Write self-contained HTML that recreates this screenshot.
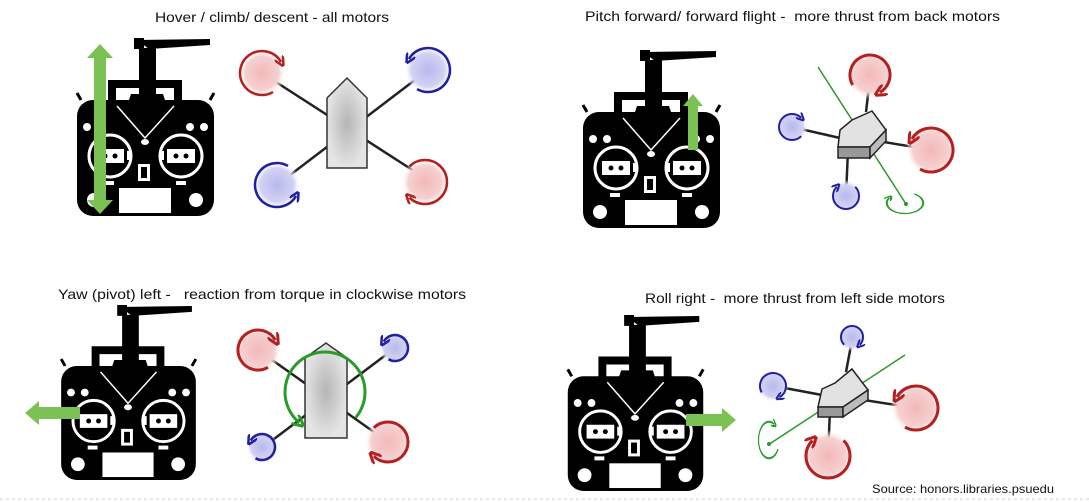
<!DOCTYPE html>
<html><head><meta charset="utf-8"><style>
html,body{margin:0;padding:0;background:#fff;width:1089px;height:502px;overflow:hidden}
svg{display:block}
text{font-family:"Liberation Sans",sans-serif;fill:#111;white-space:pre}
</style></head><body>
<svg width="1089" height="502" viewBox="0 0 1089 502" xmlns="http://www.w3.org/2000/svg">
<defs>
<radialGradient id="rg"><stop offset="0" stop-color="#f3b8b8"/><stop offset="0.7" stop-color="#f6d0d0"/><stop offset="1" stop-color="#fff" stop-opacity="0"/></radialGradient>
<radialGradient id="bg"><stop offset="0" stop-color="#b8b8ee"/><stop offset="0.7" stop-color="#d2d2f4"/><stop offset="1" stop-color="#fff" stop-opacity="0"/></radialGradient>
<radialGradient id="gb"><stop offset="0" stop-color="#b5b5b5"/><stop offset="1" stop-color="#e4e4e4"/></radialGradient>
<marker id="ar" viewBox="0 0 10 10" refX="5" refY="5" markerWidth="4" markerHeight="4" orient="auto"><path d="M0,0 L10,5 L0,10" fill="none" stroke="#b42020" stroke-width="2.5"/></marker>
<marker id="ab" viewBox="0 0 10 10" refX="5" refY="5" markerWidth="4" markerHeight="4" orient="auto"><path d="M0,0 L10,5 L0,10" fill="none" stroke="#2020a0" stroke-width="2.5"/></marker>
<marker id="ag" viewBox="0 0 10 10" refX="5" refY="5" markerWidth="4" markerHeight="4" orient="auto"><path d="M0,0 L10,5 L0,10" fill="none" stroke="#2a9a2a" stroke-width="2.5"/></marker>
<symbol id="remote" viewBox="0 0 137 178" overflow="visible">
<polygon points="60,2 133,1 133,7 72,11" fill="#000"/>
<rect x="57" y="0" width="10" height="11" fill="#000"/>
<rect x="62" y="10" width="17" height="48" fill="#000"/>
<path d="M35,78 V46 H101 V78" fill="none" stroke="#000" stroke-width="8"/>
<polygon points="54,56 86,56 90,68 102,76 78,108 60,108 36,76 50,68" fill="#000"/>
<rect x="0" y="62" width="137" height="116" rx="16" fill="#000"/>
<polyline points="40,68 68,100 97,68" fill="none" stroke="#fff" stroke-width="1.5"/>
<line x1="4" y1="62" x2="0" y2="55" stroke="#000" stroke-width="3"/>
<line x1="133" y1="62" x2="137" y2="55" stroke="#000" stroke-width="3"/>
<circle cx="10" cy="89" r="4" fill="#fff"/><circle cx="24" cy="89" r="4" fill="#fff"/>
<circle cx="113" cy="89" r="4" fill="#fff"/><circle cx="127" cy="89" r="4" fill="#fff"/>
<circle cx="33" cy="118" r="21" fill="none" stroke="#fff" stroke-width="3"/>
<circle cx="104" cy="118" r="21" fill="none" stroke="#fff" stroke-width="3"/>
<rect x="19" y="111" width="28" height="14" fill="#fff"/><rect x="90" y="111" width="28" height="14" fill="#fff"/>
<circle cx="28" cy="118" r="2.5" fill="#000"/><circle cx="38" cy="118" r="2.5" fill="#000"/>
<circle cx="99" cy="118" r="2.5" fill="#000"/><circle cx="109" cy="118" r="2.5" fill="#000"/>
<ellipse cx="68" cy="104" rx="4" ry="3" fill="#fff"/>
<rect x="50" y="113" width="4" height="9" fill="#fff"/><rect x="83" y="113" width="4" height="9" fill="#fff"/>
<rect x="61" y="126" width="12" height="17" fill="#fff"/><rect x="64" y="129" width="6" height="11" fill="#000"/>
<rect x="27" y="143" width="10" height="4" fill="#fff"/><rect x="99" y="143" width="10" height="4" fill="#fff"/>
<rect x="42" y="150" width="52" height="25" fill="#fff"/>
<circle cx="17" cy="162" r="7" fill="#fff"/><circle cx="119" cy="162" r="7" fill="#fff"/>
</symbol>
</defs>

<!-- titles -->
<text x="155" y="22" font-size="14" textLength="234" lengthAdjust="spacingAndGlyphs">Hover / climb/ descent - all motors</text>
<text x="585" y="21" font-size="14" textLength="415" lengthAdjust="spacingAndGlyphs">Pitch forward/ forward flight -  more thrust from back motors</text>
<text x="58" y="299" font-size="14" textLength="408" lengthAdjust="spacingAndGlyphs">Yaw (pivot) left -   reaction from torque in clockwise motors</text>
<text x="645" y="303" font-size="14" textLength="300" lengthAdjust="spacingAndGlyphs">Roll right -  more thrust from left side motors</text>
<text x="872" y="493" font-size="12" textLength="182" lengthAdjust="spacingAndGlyphs">Source: honors.libraries.psuedu</text>
<line x1="0" y1="499" x2="1089" y2="499" stroke="#ccc" stroke-dasharray="3,3"/>

<!-- remotes -->
<use href="#remote" x="77" y="38" width="137" height="178"/>
<use href="#remote" x="583" y="50" width="137" height="178"/>
<use href="#remote" x="60" y="305" width="137" height="175"/>
<use href="#remote" x="567" y="315" width="137" height="176"/>

<!-- green arrows -->
<polygon points="100,44 113,58 106,58 106,200 113,200 100,214 87,200 94,200 94,58 87,58" fill="#7cc153"/>
<polygon points="693,94 703,106 698,106 698,150 688,150 688,106 683,106" fill="#7cc153"/>
<polygon points="25,413 39,401 39,407 80,407 80,419 39,419 39,425" fill="#7cc153"/>
<polygon points="736,420 722,408 722,414 686,414 686,426 722,426 722,432" fill="#7cc153"/>

<!-- panel 1 drone -->
<g stroke="#222" stroke-width="2.5"><line x1="262" y1="73" x2="428" y2="180"/><line x1="428" y1="70" x2="277" y2="185"/></g>
<circle cx="262" cy="73" r="24" fill="url(#rg)"/>
<g transform="translate(262,73) rotate(60)"><path d="M22,0 A22,22 0 1 1 0,-22" fill="none" stroke="#b42020" stroke-width="2.5" marker-end="url(#ar)"/></g>
<circle cx="428" cy="70" r="24" fill="url(#bg)"/>
<g transform="translate(428,70) rotate(120)"><path d="M22,0 A22,22 0 1 0 0,22" fill="none" stroke="#2020a0" stroke-width="2.5" marker-end="url(#ab)"/></g>
<circle cx="277" cy="185" r="24" fill="url(#bg)"/>
<g transform="translate(277,185) rotate(-60)"><path d="M22,0 A22,22 0 1 0 0,22" fill="none" stroke="#2020a0" stroke-width="2.5" marker-end="url(#ab)"/></g>
<circle cx="425" cy="182" r="24" fill="url(#rg)"/>
<g transform="translate(425,182) rotate(225)"><path d="M22,0 A22,22 0 1 1 0,-22" fill="none" stroke="#b42020" stroke-width="2.5" marker-end="url(#ar)"/></g>
<polygon points="327,98 347,78 367,98 367,168 327,168" fill="url(#gb)" stroke="#333" stroke-width="1.5"/>

<!-- panel 3 drone -->
<g stroke="#222" stroke-width="2.5"><line x1="258" y1="350" x2="388" y2="442"/><line x1="395" y1="348" x2="262" y2="448"/></g>
<circle cx="258" cy="350" r="24" fill="url(#rg)"/>
<g transform="translate(258,350) rotate(60)"><path d="M20,0 A20,20 0 1 1 0,-20" fill="none" stroke="#b42020" stroke-width="3" marker-end="url(#ar)"/></g>
<circle cx="395" cy="348" r="16" fill="url(#bg)"/>
<g transform="translate(395,348) rotate(120)"><path d="M13,0 A13,13 0 1 0 0,13" fill="none" stroke="#2020a0" stroke-width="2.5" marker-end="url(#ab)"/></g>
<circle cx="262" cy="447" r="16" fill="url(#bg)"/>
<g transform="translate(262,447) rotate(120)"><path d="M13,0 A13,13 0 1 0 0,13" fill="none" stroke="#2020a0" stroke-width="2.5" marker-end="url(#ab)"/></g>
<circle cx="388" cy="442" r="24" fill="url(#rg)"/>
<g transform="translate(388,442) rotate(225)"><path d="M20,0 A20,20 0 1 1 0,-20" fill="none" stroke="#b42020" stroke-width="3" marker-end="url(#ar)"/></g>
<polygon points="305,358 326,343 347,358 347,438 305,438" fill="url(#gb)" stroke="#333" stroke-width="1.5"/>
<g transform="translate(325,392) rotate(40)"><path d="M40,0 A40,40 0 1 0 0,40" fill="none" stroke="#2a9a2a" stroke-width="3" marker-end="url(#ag)"/></g>

<!-- panel 2 drone -->
<line x1="818" y1="67" x2="906" y2="204" stroke="#2a9a2a" stroke-width="1.5"/>
<circle cx="906" cy="204" r="2" fill="#2a9a2a"/>
<g transform="translate(905,203) scale(1.3,0.75) rotate(-60)"><path d="M14,0 A14,14 0 1 1 0,-14" fill="none" stroke="#2a9a2a" stroke-width="1.6" marker-end="url(#ag)"/></g>
<g stroke="#222" stroke-width="2.5"><line x1="870" y1="78" x2="866" y2="112"/><line x1="792" y1="127" x2="840" y2="138"/><line x1="878" y1="141" x2="932" y2="150"/><line x1="848" y1="150" x2="846" y2="196"/></g>
<circle cx="870" cy="75" r="24" fill="url(#rg)"/>
<g transform="translate(870,75) rotate(150)"><path d="M20,0 A20,20 0 1 1 0,-20" fill="none" stroke="#b42020" stroke-width="3" marker-end="url(#ar)"/></g>
<circle cx="931" cy="150" r="26" fill="url(#rg)"/>
<g transform="translate(931,150) rotate(120)"><path d="M22,0 A22,22 0 1 0 0,22" fill="none" stroke="#b42020" stroke-width="3" marker-end="url(#ar)"/></g>
<circle cx="792" cy="127" r="16" fill="url(#bg)"/>
<g transform="translate(792,127) rotate(45)"><path d="M13,0 A13,13 0 1 1 0,-13" fill="none" stroke="#2020a0" stroke-width="2" marker-end="url(#ab)"/></g>
<circle cx="846" cy="196" r="16" fill="url(#bg)"/>
<g transform="translate(846,196) rotate(-45)"><path d="M13,0 A13,13 0 1 1 0,-13" fill="none" stroke="#2020a0" stroke-width="2" marker-end="url(#ab)"/></g>
<polygon points="840,130 852,120 872,111 886,130 870,147 838,147" fill="#e2e2e2" stroke="#222" stroke-width="1.5"/>
<polygon points="838,147 870,147 870,158 838,158" fill="#999" stroke="#222" stroke-width="1.5"/>
<polygon points="870,147 886,130 886,141 870,158" fill="#bbb" stroke="#222" stroke-width="1.5"/>

<!-- panel 4 drone -->
<line x1="905" y1="355" x2="768" y2="445" stroke="#2a9a2a" stroke-width="1.5"/>
<circle cx="769" cy="444" r="2" fill="#2a9a2a"/>
<g transform="translate(769,440) scale(0.75,1.3) rotate(30)"><path d="M14,0 A14,14 0 1 1 0,-14" fill="none" stroke="#2a9a2a" stroke-width="1.6" marker-end="url(#ag)"/></g>
<g stroke="#222" stroke-width="2.5"><line x1="852" y1="340" x2="846" y2="372"/><line x1="774" y1="386" x2="822" y2="395"/><line x1="864" y1="400" x2="915" y2="408"/><line x1="830" y1="410" x2="828" y2="456"/></g>
<circle cx="852" cy="337" r="14" fill="url(#bg)"/>
<g transform="translate(852,337) rotate(135)"><path d="M11,0 A11,11 0 1 1 0,-11" fill="none" stroke="#2020a0" stroke-width="2" marker-end="url(#ab)"/></g>
<circle cx="773" cy="386" r="16" fill="url(#bg)"/>
<g transform="translate(773,386) rotate(150)"><path d="M13,0 A13,13 0 1 1 0,-13" fill="none" stroke="#2020a0" stroke-width="2" marker-end="url(#ab)"/></g>
<circle cx="916" cy="408" r="26" fill="url(#rg)"/>
<g transform="translate(916,408) rotate(120)"><path d="M22,0 A22,22 0 1 0 0,22" fill="none" stroke="#b42020" stroke-width="3" marker-end="url(#ar)"/></g>
<circle cx="828" cy="456" r="26" fill="url(#rg)"/>
<g transform="translate(828,456) rotate(-45)"><path d="M22,0 A22,22 0 1 1 0,-22" fill="none" stroke="#b42020" stroke-width="3" marker-end="url(#ar)"/></g>
<polygon points="822,389 835,383 852,369 868,390 843,407 818,407" fill="#e2e2e2" stroke="#222" stroke-width="1.5"/>
<polygon points="818,407 843,407 843,417 818,417" fill="#999" stroke="#222" stroke-width="1.5"/>
<polygon points="843,407 868,390 868,400 843,417" fill="#bbb" stroke="#222" stroke-width="1.5"/>
</svg>
</body></html>
